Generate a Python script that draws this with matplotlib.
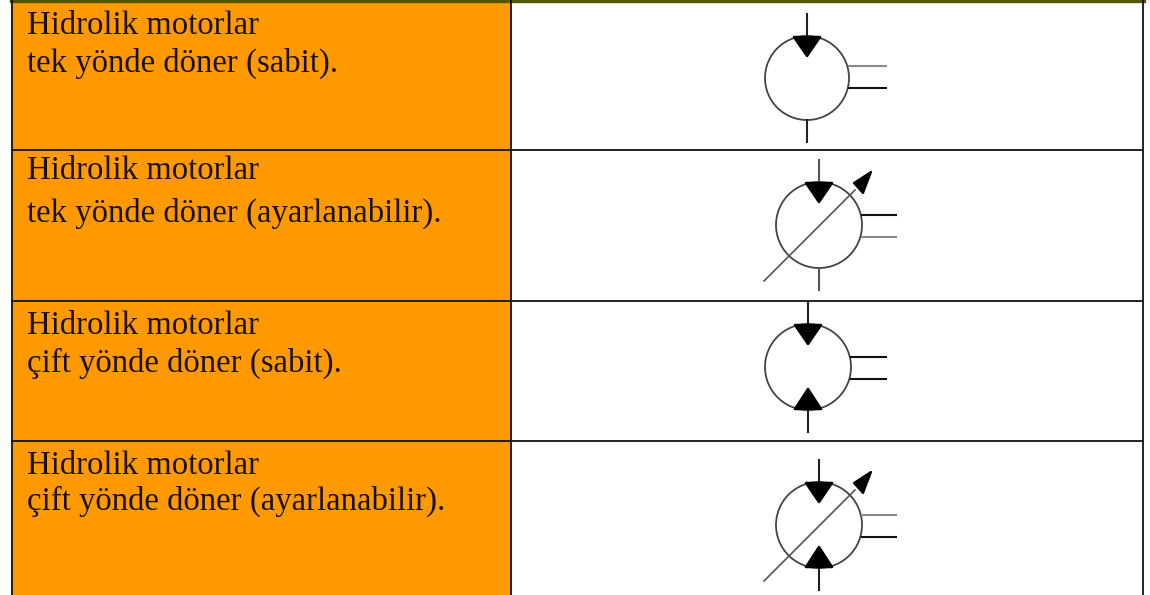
import matplotlib
matplotlib.use("Agg")
import matplotlib.pyplot as plt
from matplotlib.patches import Rectangle, Circle, Polygon

# Table content
line_one = ["Hidrolik motorlar"] * 4
line_two = ["tek yönde döner (sabit).", "tek yönde döner (ayarlanabilir).",
            "çift yönde döner (sabit).", "çift yönde döner (ayarlanabilir)."]
two_way = [False, False, True, True]
adjustable = [False, True, False, True]

# Layout (pixels)
row_edges = [2, 150, 301, 441, 600]
baselines = [(34, 72), (179, 222), (334, 372), (474, 510)]
centers = [(807, 78), (819, 225), (808, 367), (819, 525)]
radii = [42, 43, 43, 43]
port_colors = [("#8a8a8a", "#111111"), ("#111111", "#8a8a8a"),
               ("#111111", "#111111"), ("#8a8a8a", "#111111")]
port_dy = [(-12, 10), (-10, 12), (-10, 12), (-10, 12)]
port_len = [37, 34, 35, 34]
stem_color = ["#222222", "#555555", "#222222", "#222222"]
LEFT, MID, RIGHT = 12, 511, 1143

fig = plt.figure(figsize=(11.5, 5.95), dpi=100, facecolor="white")
ax = fig.add_axes([0, 0, 1, 1])
ax.set_xlim(0, 1150)
ax.set_ylim(595, 0)
ax.axis("off")

ORANGE = "#ff9900"
DARK = "#111111"
ax.add_patch(Rectangle((LEFT, 0), MID - LEFT, 600, fc=ORANGE, ec="none", zorder=1))
ax.plot([LEFT - 1, RIGHT + 1], [1, 1], color="#555500", lw=2.4, zorder=3)
for y in row_edges[1:-1]:
    ax.plot([LEFT, RIGHT], [y, y], color=DARK, lw=1.3, zorder=3)
for x in (LEFT, MID, RIGHT):
    ax.plot([x, x], [0, 600], color=DARK, lw=1.3, zorder=3)

for i in range(4):
    for text, base in zip((line_one[i], line_two[i]), baselines[i]):
        ax.text(27, base, text, family="Liberation Serif", fontsize=23.6,
                color="#1a1200", va="baseline", ha="left", zorder=4)

    cx, cy = centers[i]
    r = radii[i]
    ax.add_patch(Circle((cx, cy), r, fc="white", ec="#444444", lw=1.3, zorder=5))
    # top inlet with filled triangle
    ax.plot([cx, cx], [cy - r - 22, cy - r], color=stem_color[i], lw=1.5, zorder=6)
    ax.add_patch(Polygon([(cx - 13, cy - r + 1), (cx + 13, cy - r + 1), (cx, cy - r + 20)],
                         fc="black", ec="black", lw=1.8, joinstyle="round", zorder=6))
    # bottom line, with triangle for two-way motors
    ax.plot([cx, cx], [cy + r, cy + r + 22], color=stem_color[i], lw=1.5, zorder=6)
    if two_way[i]:
        ax.add_patch(Polygon([(cx - 13, cy + r - 1), (cx + 13, cy + r - 1), (cx, cy + r - 21)],
                             fc="black", ec="black", lw=1.8, joinstyle="round", zorder=6))
    # drain/port lines
    for dy, col in zip(port_dy[i], port_colors[i]):
        ax.plot([cx + r, cx + r + port_len[i]], [cy + dy, cy + dy], color=col, lw=1.5, zorder=6)
    # adjustable diagonal arrow
    if adjustable[i]:
        ax.plot([cx - 55, cx + 36], [cy + 56, cy - 35], color="#555555", lw=1.2, zorder=7)
        ax.add_patch(Polygon([(cx + 52, cy - 53), (cx + 35, cy - 42), (cx + 44, cy - 32)],
                             fc="black", ec="black", lw=1.6, joinstyle="round", zorder=7))

fig.savefig("out.png", dpi=100, facecolor="white")
